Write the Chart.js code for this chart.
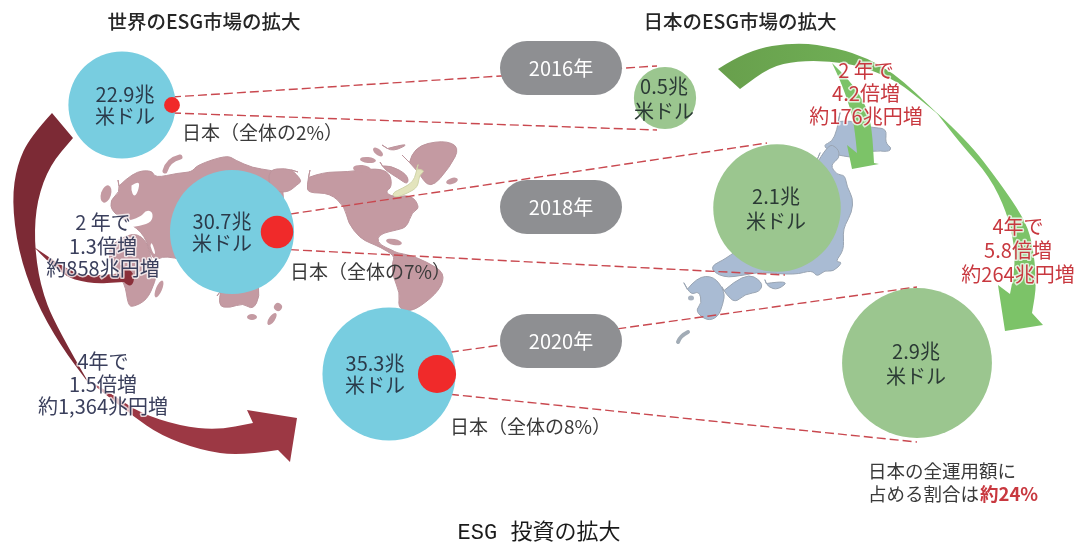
<!DOCTYPE html>
<html lang="ja">
<head>
<meta charset="utf-8">
<title>ESG 投資の拡大</title>
<script src="https://cdn.jsdelivr.net/npm/chart.js@4"></script>
<style>
  html, body { margin: 0; padding: 0; background: #ffffff; }
  canvas { display: block; }
</style>
</head>
<body>
<canvas id="esgChart" width="1083" height="547"></canvas>
<script>
// Values (trillion USD)
const years = ['2016年', '2018年', '2020年'];
const worldValues = [22.9, 30.7, 35.3];
const japanValues = [0.5, 2.1, 2.9];
const japanShares = [2, 7, 8];

// Bubble layout, one entry per year
const worldX = [122, 232, 389];
const worldY = [105, 232, 374];
const dotX = [172, 277, 437];
const japanX = [665, 777, 917];
const japanY = [98, 208, 363];
const pillY = [68, 207, 341];

// Area scale of the bubbles
const worldScale = 11.2;
const japanScale = 44;

const FONT = '"Noto Sans CJK JP", "Noto Sans", sans-serif';

// Dashed guides: from the red dot to the green circle
const guideTop = [
  [{ x: 172, y: 97 }, { x: 657, y: 66 }],
  [{ x: 277, y: 216 }, { x: 767, y: 143 }],
  [{ x: 437, y: 354 }, { x: 917, y: 287 }]
];
const guideBottom = [
  [{ x: 172, y: 113 }, { x: 657, y: 130 }],
  [{ x: 277, y: 249 }, { x: 785, y: 275 }],
  [{ x: 437, y: 393 }, { x: 917, y: 442 }]
];

// Land outlines for the background maps
const worldLand = [
  [[118,180],[133,172],[152,170],[155,178],[178,173],[192,172],[197,165],[227,155],[235,160],[253,168],[270,170],[287,175],[282,185],[285,215],[270,265],[200,265],[165,255],[153,262],[145,235],[128,222],[112,212],[110,200],[120,192]],
  [[113,240],[128,232],[146,238],[152,262],[158,268],[155,282],[147,300],[133,307],[128,305],[125,283],[112,268],[108,252]],
  [[298,172],[303,180],[297,185],[287,193],[270,190],[268,170],[285,168]],
  [[310,170],[323,172],[347,172],[377,168],[390,173],[392,187],[385,192],[393,197],[412,195],[420,208],[412,212],[407,227],[397,230],[383,233],[377,238],[380,245],[392,250],[397,253],[410,255],[427,262],[445,273],[440,290],[420,307],[407,312],[398,307],[400,293],[393,277],[392,263],[395,256],[380,247],[370,243],[360,238],[348,223],[345,207],[330,193],[308,193],[307,185]],
  [[402,155],[413,147],[443,140],[460,147],[450,167],[430,190],[417,170]],
  [[382,145],[412,142],[393,152]],
  [[380,162],[390,165],[408,175],[408,185],[398,178],[385,170]],
  [[217,296],[217,306],[230,308],[243,303],[253,310],[260,296],[257,280],[225,285]]
];
const worldIslands = [
  [106,194,5,9,0.3],[378,152,6,3,0.7],[368,160,8,3,0.1],[362,169,9,4,0.1],[452,181,6,3,-0.3],
  [394,242,8,3,0.2],[159,289,3,9,0.4],[252,317,5,3,0],[278,307,4,4,0.6],[272,319,3,7,0.6]
];
const worldWater = [
  [[132,181],[140,180],[138,192],[134,197],[131,190]],
  [[118,217],[140,218],[146,210],[153,212],[152,222],[140,226],[125,228]],
  [[148,238],[151,240],[156,254],[153,254]]
];
const miniJapan = [[418,165],[426,170],[419,175],[418,187],[408,193],[395,198],[392,193],[403,188],[413,182],[416,173]];
const japanLand = [
  [[840,113],[853,120],[870,128],[887,128],[885,143],[892,148],[888,152],[873,150],[858,158],[850,157],[837,155],[830,152],[823,145],[832,142],[837,130]],
  [[820,153],[827,143],[838,148],[840,158],[830,165],[837,175],[845,175],[847,187],[853,198],[852,212],[845,225],[843,233],[844,250],[835,262],[843,262],[833,272],[825,270],[817,277],[812,270],[795,275],[760,272],[745,275],[723,278],[708,267],[730,257],[800,200]],
  [[722,287],[745,272],[763,282],[760,292],[745,294],[735,303],[726,294]],
  [[765,280],[790,280],[778,290],[768,287]],
  [[684,283],[697,277],[714,276],[725,292],[723,304],[718,317],[707,321],[695,311],[702,303],[699,291],[691,295]]
];

// Arrows: each shape is a list of curved runs joined by straight edges
const arrows = [
  { color: '#7c2a35', runs: [
    [[52,113],[30,137],[17,165],[12,200],[18,250],[35,300],[60,345],[90,385]],
    [[90,385],[55,325],[40,285],[34,240],[37,200],[50,165],[73,138]]
  ] },
  { color: '#8a2f3a', runs: [
    [[34,247],[60,275],[90,284],[124,282]],
    [[124,282],[131,289],[136,274],[119,262],[122,273]],
    [[122,273],[90,277],[68,270],[34,247]]
  ] },
  { color: '#9c3844', runs: [
    [[85,378],[115,396],[140,413],[180,426],[217,430],[253,423]],
    [[253,423],[247,410]], [[247,410],[297,418]], [[297,418],[290,462]], [[290,462],[278,450]],
    [[278,450],[240,456],[200,450],[160,435],[133,416],[110,398],[85,378]]
  ] },
  { color: 'greenArc', runs: [
    [[718,69],[747,50],[797,42],[837,48],[867,58],[893,73],[915,92],[940,116]],
    [[940,116],[915,95],[893,79],[860,66],[830,61],[797,61],[770,67],[740,89]]
  ] },
  { color: '#7cc368', runs: [
    [[936,112],[967,140],[1000,183],[1023,217],[1032,240],[1037,283],[1032,313]],
    [[1032,313],[1043,325]], [[1043,325],[1005,331]], [[1005,331],[998,285]], [[998,285],[1010,294]],
    [[1010,294],[1015,270],[1014,243],[1007,213],[990,177],[960,143],[936,112]]
  ] },
  { color: '#7cc368', runs: [
    [[832,63],[850,80],[867,107],[872,130],[874,163]],
    [[874,163],[879,164]], [[879,164],[852,169]], [[852,169],[847,145]], [[847,145],[857,153]],
    [[857,153],[855,130],[850,107],[840,80],[832,63]]
  ] }
];

// Text groups that are not tied to the data arrays
const growthWorld = [
  { x: 103, y: [222, 246, 268], lines: ['2 年で', '1.3倍増', '約858兆円増'] },
  { x: 103, y: [361, 384, 406], lines: ['4年で', '1.5倍増', '約1,364兆円増'] }
];
const growthJapan = [
  { x: 866, y: [70, 93, 116], lines: ['2 年で', '4.2倍増', '約176兆円増'] },
  { x: 1018, y: [226, 250, 274], lines: ['4年で', '5.8倍増', '約264兆円増'] }
];
const shareLabelX = [182, 290, 450];
const shareLabelY = [133, 272, 427];

function radius(value, scale) {
  return scale * Math.sqrt(value);
}

function bubbleData(xs, ys, values, scale) {
  return values.map((v, i) => ({ x: xs[i], y: ys[i], r: radius(v, scale) }));
}

function smoothRun(ctx, pts) {
  // goes through midpoints, so the outline has no hard corners
  for (let i = 1; i < pts.length - 1; i++) {
    const mx = (pts[i][0] + pts[i + 1][0]) / 2;
    const my = (pts[i][1] + pts[i + 1][1]) / 2;
    ctx.quadraticCurveTo(pts[i][0], pts[i][1], mx, my);
  }
  const last = pts[pts.length - 1];
  ctx.lineTo(last[0], last[1]);
}

function fillBlob(ctx, pts, fill, stroke) {
  ctx.beginPath();
  ctx.moveTo((pts[0][0] + pts[pts.length - 1][0]) / 2, (pts[0][1] + pts[pts.length - 1][1]) / 2);
  const closed = pts.concat([pts[0]]);
  smoothRun(ctx, closed);
  ctx.closePath();
  ctx.fillStyle = fill;
  ctx.fill();
  if (stroke) {
    ctx.strokeStyle = stroke;
    ctx.lineWidth = 1;
    ctx.stroke();
  }
}

function drawText(ctx, text, x, y, font, color, align, halo) {
  ctx.font = font;
  ctx.textAlign = align || 'center';
  ctx.textBaseline = 'middle';
  if (halo) {
    ctx.strokeStyle = 'rgba(255, 255, 255, 0.75)';
    ctx.lineWidth = 3;
    ctx.lineJoin = 'round';
    ctx.strokeText(text, x, y);
  }
  ctx.fillStyle = color;
  ctx.fillText(text, x, y);
}

// Everything below the bubbles: maps and arrows
const backdropPlugin = {
  id: 'backdrop',
  beforeDatasetsDraw(chart) {
    const ctx = chart.ctx;
    ctx.save();
    const land = '#c49aa2';
    const edge = '#bc949c';
    worldLand.forEach(p => fillBlob(ctx, p, land, edge));
    worldWater.forEach(p => fillBlob(ctx, p, '#ffffff'));
    worldIslands.forEach(e => {
      ctx.beginPath();
      ctx.ellipse(e[0], e[1], e[2], e[3], e[4], 0, Math.PI * 2);
      ctx.fillStyle = land;
      ctx.fill();
    });
    // Novaya Zemlya
    ctx.beginPath();
    ctx.moveTo(165, 171);
    ctx.quadraticCurveTo(168, 160, 180, 157);
    ctx.strokeStyle = land;
    ctx.lineWidth = 5;
    ctx.lineCap = 'round';
    ctx.stroke();
    fillBlob(ctx, miniJapan, '#e3e4bd', '#cfd3a8');

    japanLand.forEach(p => fillBlob(ctx, p, '#a9bbd3', '#9aa5b3'));
    ctx.beginPath();
    ctx.ellipse(691, 298, 3, 2.5, 0, 0, Math.PI * 2);
    ctx.fillStyle = '#a9b3c0';
    ctx.fill();
    ctx.beginPath();
    ctx.moveTo(678, 342);
    ctx.quadraticCurveTo(680, 336, 688, 332);
    ctx.strokeStyle = '#a2acb6';
    ctx.lineWidth = 4;
    ctx.stroke();

    const green = ctx.createLinearGradient(718, 0, 940, 0);
    green.addColorStop(0, '#689f4c');
    green.addColorStop(0.6, '#6fae55');
    green.addColorStop(1, '#7cc368');

    arrows.forEach(a => {
      ctx.beginPath();
      ctx.moveTo(a.runs[0][0][0], a.runs[0][0][1]);
      a.runs.forEach(run => {
        ctx.lineTo(run[0][0], run[0][1]);
        smoothRun(ctx, run);
      });
      ctx.closePath();
      ctx.fillStyle = a.color === 'greenArc' ? green : a.color;
      ctx.fill();
    });
    ctx.restore();
  }
};

// Pills and all labels go on top of the marks
const labelPlugin = {
  id: 'labels',
  afterDatasetsDraw(chart) {
    const ctx = chart.ctx;
    const x = chart.scales.x;
    const y = chart.scales.y;
    ctx.save();

    years.forEach((year, i) => {
      ctx.beginPath();
      ctx.roundRect(x.getPixelForValue(500), y.getPixelForValue(pillY[i] - 27), 122, 54, 27);
      ctx.fillStyle = '#8e8f92';
      ctx.fill();
      drawText(ctx, year, x.getPixelForValue(561), y.getPixelForValue(pillY[i]), '400 20px ' + FONT, '#ffffff');
    });

    const bubbleFont = '400 20px ' + FONT;
    worldValues.forEach((v, i) => {
      const cx = worldX[i] - (i === 0 ? -3 : i === 1 ? 10 : 14);
      drawText(ctx, v + '兆', cx, worldY[i] - 11, bubbleFont, '#2b3a4a');
      drawText(ctx, '米ドル', cx, worldY[i] + 11, bubbleFont, '#2b3a4a');
    });
    japanValues.forEach((v, i) => {
      drawText(ctx, v + '兆', japanX[i] - 1, japanY[i] - 12, bubbleFont, '#2b3a35');
      drawText(ctx, '米ドル', japanX[i] - 1, japanY[i] + 13, bubbleFont, '#2b3a35');
    });
    japanShares.forEach((s, i) => {
      drawText(ctx, '日本（全体の' + s + '%）', shareLabelX[i], shareLabelY[i], '400 19px ' + FONT, '#3a3a3a', 'left');
    });

    growthWorld.forEach(g => g.lines.forEach((line, i) => {
      drawText(ctx, line, g.x, g.y[i], '400 20px ' + FONT, '#3a3f5c', 'center', true);
    }));
    growthJapan.forEach(g => g.lines.forEach((line, i) => {
      drawText(ctx, line, g.x, g.y[i], '400 20px ' + FONT, '#c8383f', 'center', true);
    }));

    drawText(ctx, '世界のESG市場の拡大', 204, 22, '500 19.5px ' + FONT, '#262626');
    drawText(ctx, '日本のESG市場の拡大', 740, 22, '500 19.5px ' + FONT, '#262626');

    drawText(ctx, '日本の全運用額に', 868, 471, '400 18.5px ' + FONT, '#3a3a3a', 'left');
    drawText(ctx, '占める割合は', 868, 494, '400 18.5px ' + FONT, '#3a3a3a', 'left');
    drawText(ctx, '約24%', 980, 494, '700 18.5px ' + FONT, '#c8383f', 'left');

    drawText(ctx, 'ESG 投資の拡大', 539, 533, '400 22px "Liberation Mono", ' + FONT, '#1a1a1a');
    ctx.restore();
  }
};

function guideDataset(points) {
  return {
    type: 'line',
    data: points,
    borderColor: '#c9484f',
    borderWidth: 1.4,
    borderDash: [9, 4],
    pointRadius: 0,
    fill: false,
    order: 5
  };
}

document.addEventListener('DOMContentLoaded', function() {
  const ctx = document.getElementById('esgChart').getContext('2d');
  new Chart(ctx, {
    type: 'bubble',
    data: {
      datasets: [
        { label: '日本', data: bubbleData(dotX, worldY, japanValues, worldScale), backgroundColor: '#f02a2a', borderWidth: 0, order: 1 },
        { label: '世界', data: bubbleData(worldX, worldY, worldValues, worldScale), backgroundColor: '#78cde0', borderWidth: 0, order: 2 },
        { label: '日本市場', data: bubbleData(japanX, japanY, japanValues, japanScale), backgroundColor: '#9bc68f', borderWidth: 0, order: 2 }
      ].concat(guideTop.map(guideDataset), guideBottom.map(guideDataset))
    },
    options: {
      responsive: false,
      animation: false,
      layout: { padding: 0, autoPadding: false },
      plugins: {
        legend: { display: false },
        tooltip: { enabled: false }
      },
      scales: {
        x: { type: 'linear', min: 0, max: 1083, display: false },
        y: { type: 'linear', min: 0, max: 547, reverse: true, display: false }
      }
    },
    plugins: [backdropPlugin, labelPlugin]
  });
});
</script>
</body>
</html>
